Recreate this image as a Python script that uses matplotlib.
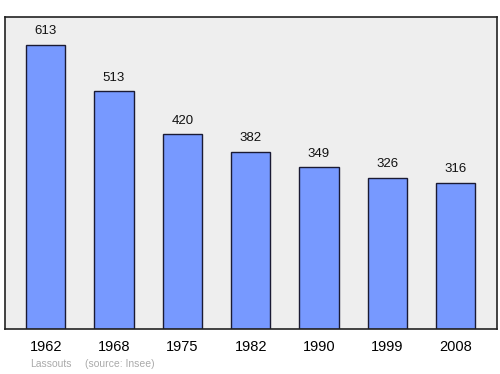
import matplotlib
matplotlib.use("Agg")
import matplotlib.pyplot as plt

years = ["1962", "1968", "1975", "1982", "1990", "1999", "2008"]
population = [613, 513, 420, 382, 349, 326, 316]

plt.rcParams['font.family'] = ['Liberation Sans', 'DejaVu Sans']

fig = plt.figure(figsize=(5, 3.74), dpi=100)
ax = fig.add_axes([0.01, 0.1203, 0.984, 0.834])
ax.set_facecolor('#eeeeee')

x = list(range(len(years)))
ax.bar(x, population, width=0.571, color='#7799ff', edgecolor='#1a1a33', linewidth=1.0, zorder=2)

for xi, v in zip(x, population):
    ax.annotate(str(v), (xi, v), xytext=(0, 5.5), textcoords='offset points',
                ha='center', va='bottom', fontsize=9.5, color='#111111')

ax.set_xlim(-0.595, 6.605)
ax.set_ylim(0, 673)
ax.set_xticks(x)
ax.set_xticklabels(years, fontsize=10.5)
ax.tick_params(axis='x', length=0, pad=8)
ax.set_yticks([])
for s in ax.spines.values():
    s.set_linewidth(1.2)
    s.set_color('#222222')

fig.text(0.06, 0.013, "Lassouts", fontsize=7.5, color='#aaaaaa', ha='left', va='bottom')
fig.text(0.17, 0.013, "(source: Insee)", fontsize=7.5, color='#aaaaaa', ha='left', va='bottom')

fig.savefig("out.png", dpi=100)
